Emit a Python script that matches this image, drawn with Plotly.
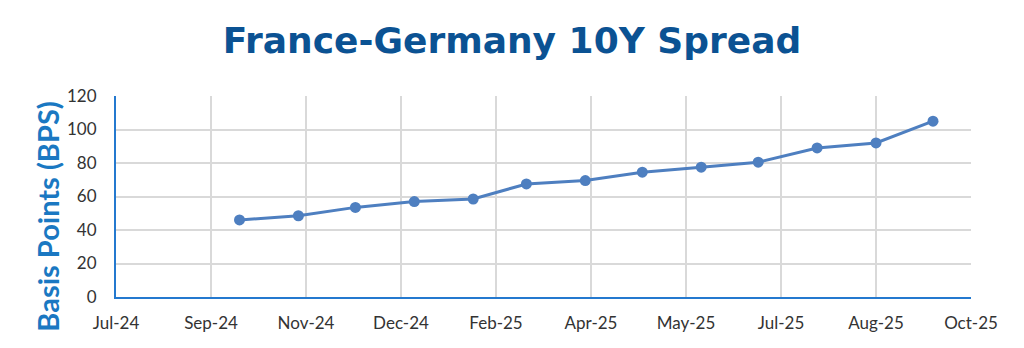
import plotly.graph_objects as go

dates = ["2024-09-30", "2024-10-31", "2024-11-30", "2024-12-31", "2025-01-31",
         "2025-02-28", "2025-03-31", "2025-04-30", "2025-05-31", "2025-06-30",
         "2025-07-31", "2025-08-31", "2025-09-30"]
spread_bps = [46, 48.5, 53.5, 57, 58.5, 67.5, 69.5, 74.5, 77.5, 80.5, 89, 92, 105]

tick_dates = ["2024-07-27", "2024-09-15", "2024-11-04", "2024-12-24", "2025-02-12",
              "2025-04-03", "2025-05-23", "2025-07-12", "2025-08-31", "2025-10-20"]
tick_labels = ["Jul-24", "Sep-24", "Nov-24", "Dec-24", "Feb-25",
               "Apr-25", "May-25", "Jul-25", "Aug-25", "Oct-25"]
y_ticks = [0, 20, 40, 60, 80, 100, 120]

fig = go.Figure()
fig.add_trace(go.Scatter(
    x=dates, y=spread_bps, mode="lines+markers",
    line=dict(color="#4E7FC0", width=3),
    marker=dict(color="#4E7FC0", size=11),
    showlegend=False,
))

fig.update_layout(
    width=1024, height=348,
    margin=dict(l=116, r=53, t=96, b=51),
    paper_bgcolor="white", plot_bgcolor="white",
    title=dict(
        text="France-Germany 10Y Spread",
        font=dict(family="DejaVu Sans", size=36, color="#0B5293", weight="bold"),
        x=0.5, xanchor="center", y=1 - 40 / 348, yanchor="middle", yref="container",
    ),
    font=dict(family="Lato", size=17, color="#333333"),
)

fig.add_annotation(
    text="Basis Points (BPS)", textangle=-90,
    xref="paper", yref="paper", x=-0.0795, y=0.40,
    xanchor="center", yanchor="middle", showarrow=False,
    font=dict(family="Lato", size=29, color="#1A78C2", weight="bold"),
)

fig.update_xaxes(
    type="date",
    range=[tick_dates[0], tick_dates[-1]],
    tickvals=tick_dates, ticktext=tick_labels,
    showgrid=True, gridcolor="#D9D9D9", gridwidth=1.5,
    showline=True, linecolor="#2479CF", linewidth=2,
    ticks="", ticklabelstandoff=10,
    zeroline=False,
)
fig.update_yaxes(
    range=[0, 120], tickvals=y_ticks,
    showgrid=True, gridcolor="#D9D9D9", gridwidth=1.5,
    showline=True, linecolor="#2479CF", linewidth=2,
    ticks="", ticklabelstandoff=14,
    zeroline=False,
)

fig.write_html("out.html")
